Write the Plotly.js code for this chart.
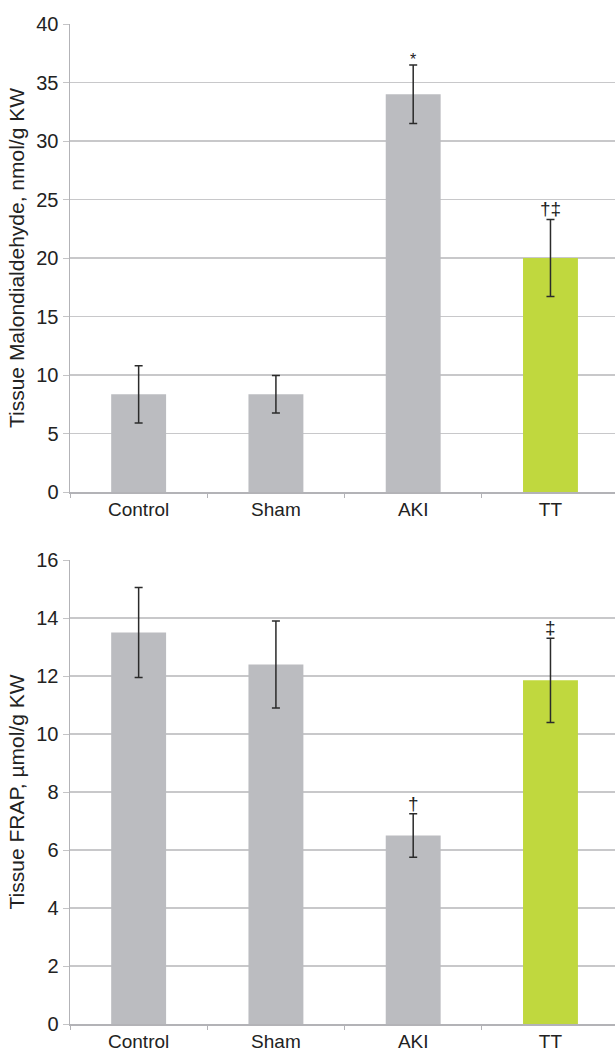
<!DOCTYPE html>
<html>
<head>
<meta charset="utf-8">
<script src="https://cdn.plot.ly/plotly-3.0.1.min.js"></script>
<style>html,body{margin:0;padding:0;background:#fff;}#chart{width:615px;height:1054px;}</style>
</head>
<body>
<div id="chart"></div>
<script>
var categories = ["Control", "Sham", "AKI", "TT"];
var mdaValues = [8.35, 8.35, 34.0, 20.0];
var mdaErrors = [2.45, 1.6, 2.5, 3.3];
var mdaMarks = ["", "", "*", "†‡"];
var frapValues = [13.5, 12.4, 6.5, 11.85];
var frapErrors = [1.55, 1.5, 0.75, 1.45];
var frapMarks = ["", "", "†", "‡"];
var barColors = ["#bbbcc0", "#bbbcc0", "#bbbcc0", "#c0d83e"];
var mdaTicks = [0, 5, 10, 15, 20, 25, 30, 35, 40];
var frapTicks = [0, 2, 4, 6, 8, 10, 12, 14, 16];

var fontFam = "Liberation Sans, Arial, sans-serif";
var errStyle = {type: "data", visible: true, color: "#2b2b2b", thickness: 1.5, width: 4};

var traces = [
  {type: "bar", x: categories, y: mdaValues, xaxis: "x", yaxis: "y",
   marker: {color: barColors}, width: 0.4,
   error_y: Object.assign({array: mdaErrors}, errStyle), hoverinfo: "none"},
  {type: "bar", x: categories, y: frapValues, xaxis: "x2", yaxis: "y2",
   marker: {color: barColors}, width: 0.4,
   error_y: Object.assign({array: frapErrors}, errStyle), hoverinfo: "none"}
];

var annotations = [];
categories.forEach(function (c, i) {
  if (mdaMarks[i]) annotations.push({xref: "x", yref: "y", x: c, y: mdaValues[i] + mdaErrors[i],
    text: mdaMarks[i], showarrow: false, yanchor: "bottom", yshift: mdaMarks[i] === "*" ? -5 : -2,
    font: {family: fontFam, size: mdaMarks[i] === "*" ? 16 : 19, color: "#222"}});
  if (frapMarks[i]) annotations.push({xref: "x2", yref: "y2", x: c, y: frapValues[i] + frapErrors[i],
    text: frapMarks[i], showarrow: false, yanchor: "bottom", yshift: -2,
    font: {family: fontFam, size: 19, color: "#222"}});
});

function xax(anchor) {
  return {anchor: anchor, type: "category", range: [-0.5, 3.47], showline: true, linecolor: "#b3b3b7",
    linewidth: 1.5, ticks: "outside", tickson: "boundaries", ticklen: 4, tickcolor: "#b3b3b7",
    showgrid: false, zeroline: false, tickfont: {family: fontFam, size: 19, color: "#222"}, fixedrange: true};
}
function yax(anchor, domain, ticks, range, title) {
  return {anchor: anchor, domain: domain, range: range, tickvals: ticks, ticktext: ticks.map(String),
    showline: true, linecolor: "#b3b3b7", linewidth: 1.5, ticks: "outside", ticklen: 6, tickcolor: "#c4c4c6",
    showgrid: true, gridcolor: "#c8c8ca", gridwidth: 1.5, zeroline: false,
    tickfont: {family: fontFam, size: 20, color: "#222"},
    title: {text: title, font: {family: fontFam, size: 21, color: "#222"}, standoff: 6}, fixedrange: true};
}

var layout = {
  width: 615, height: 1054, showlegend: false,
  paper_bgcolor: "#fff", plot_bgcolor: "#fff",
  margin: {l: 70, r: 0, t: 24, b: 30},
  xaxis: xax("y"),
  yaxis: yax("x", [0.532, 1], mdaTicks, [0, 40], "Tissue Malondialdehyde, nmol/g KW"),
  xaxis2: xax("y2"),
  yaxis2: yax("x2", [0, 0.464], frapTicks, [0, 16], "Tissue FRAP, µmol/g KW"),
  annotations: annotations,
  bargap: 0.6
};
Plotly.newPlot("chart", traces, layout, {displayModeBar: false, staticPlot: true});
</script>
</body>
</html>
